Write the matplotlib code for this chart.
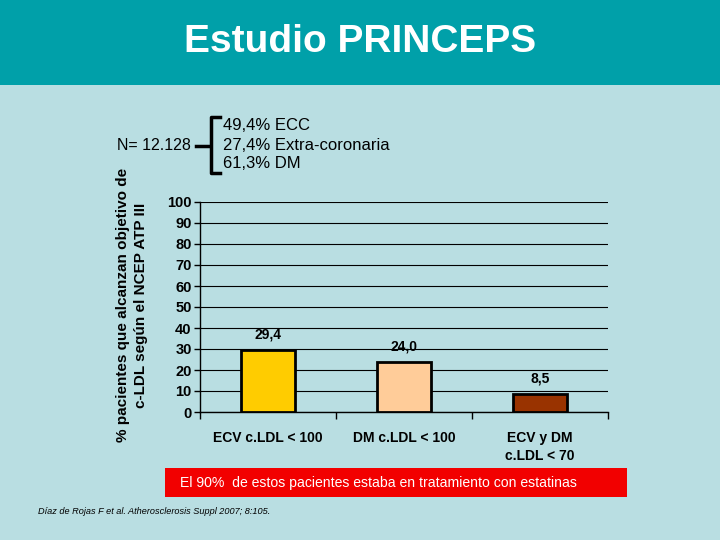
import matplotlib
matplotlib.use("Agg")
import matplotlib.pyplot as plt
from matplotlib.patches import Rectangle
from matplotlib.lines import Line2D

plt.rcParams['font.family'] = ['Liberation Sans', 'DejaVu Sans']

categories = ["ECV c.LDL < 100", "DM c.LDL < 100", "ECV y DM\nc.LDL < 70"]
values = [29.4, 24.0, 8.5]
value_labels = ["29,4", "24,0", "8,5"]
bar_colors = ["#FFCC00", "#FFCC99", "#993300"]
yticks = [0, 10, 20, 30, 40, 50, 60, 70, 80, 90, 100]
subgroups = ["49,4% ECC", "27,4% Extra-coronaria", "61,3% DM"]

W, H = 720, 540
fig = plt.figure(figsize=(7.2, 5.4), dpi=100)
fig.patch.set_facecolor("#B9DEE2")

def fx(x):
    return x / W

def fy(y):
    return 1 - y / H

# header band
fig.patches.append(Rectangle((0, fy(85)), 1, 85 / H, transform=fig.transFigure,
                             facecolor="#00A0A9", edgecolor="none", zorder=0))
fig.text(0.5, fy(42), "Estudio PRINCEPS", color="white", fontsize=28,
         fontweight="bold", ha="center", va="center")

# axes
ax = fig.add_axes([fx(200), fy(412), fx(608 - 200), (412 - 202) / H])
ax.set_facecolor("none")
x = range(len(categories))
ax.bar(x, values, width=0.4, color=bar_colors, edgecolor="black", linewidth=2, zorder=3)
ax.set_xlim(-0.5, 2.5)
ax.set_ylim(0, 100)
ax.set_yticks(yticks)
ax.set_yticklabels([str(t) for t in yticks], fontsize=10.5, fontweight="bold")
ax.yaxis.grid(True, color="black", linewidth=0.8, zorder=0)
ax.set_axisbelow(True)
ax.set_xticks([-0.5, 0.5, 1.5, 2.5])
ax.set_xticklabels([])
ax.tick_params(axis="x", direction="out", length=5, width=1)
ax.tick_params(axis="y", direction="out", length=4, width=1, pad=2)
for s in ["top", "right"]:
    ax.spines[s].set_visible(False)
ax.spines["left"].set_linewidth(1)
ax.spines["bottom"].set_linewidth(1)

for i, (v, lab) in enumerate(zip(values, value_labels)):
    ax.annotate(lab, (i, v), xytext=(0, 6), textcoords="offset points",
                ha="center", va="bottom", fontsize=10, fontweight="bold")

for i, c in enumerate(categories):
    ax.annotate(c, (i, 0), xytext=(0, -14), textcoords="offset points",
                ha="center", va="top", fontsize=10, fontweight="bold",
                xycoords=("data", "axes fraction"), linespacing=1.3)

fig.text(fx(132), fy(305), "% pacientes que alcanzan objetivo de\nc-LDL según el NCEP ATP III",
         rotation=90, ha="center", va="center", fontsize=11, fontweight="bold",
         linespacing=1.45)

# N bracket
fig.text(fx(117), fy(146), "N= 12.128", fontsize=11.5, ha="left", va="center")
lw = 2.5
fig.add_artist(Line2D([fx(196), fx(210)], [fy(146), fy(146)], color="black", lw=lw,
                      transform=fig.transFigure))
fig.add_artist(Line2D([fx(220), fx(211), fx(211), fx(220)],
                      [fy(117), fy(117), fy(173), fy(173)], color="black", lw=lw,
                      transform=fig.transFigure))
for yy, t in zip([125, 145, 164], subgroups):
    fig.text(fx(223), fy(yy), t, fontsize=12, ha="left", va="center")

# red box
fig.patches.append(Rectangle((fx(165), fy(497)), fx(627 - 165), (497 - 468) / H,
                             transform=fig.transFigure, facecolor="#F20000",
                             edgecolor="none", zorder=0))
fig.text(fx(378), fy(483), "El 90%  de estos pacientes estaba en tratamiento con estatinas",
         color="white", fontsize=10.1, ha="center", va="center")

fig.text(fx(38), fy(512), "Díaz de Rojas F et al. Atherosclerosis Suppl 2007; 8:105.",
         fontsize=6.6, style="italic", ha="left", va="center")

fig.savefig("out.png", dpi=100, facecolor=fig.get_facecolor())
